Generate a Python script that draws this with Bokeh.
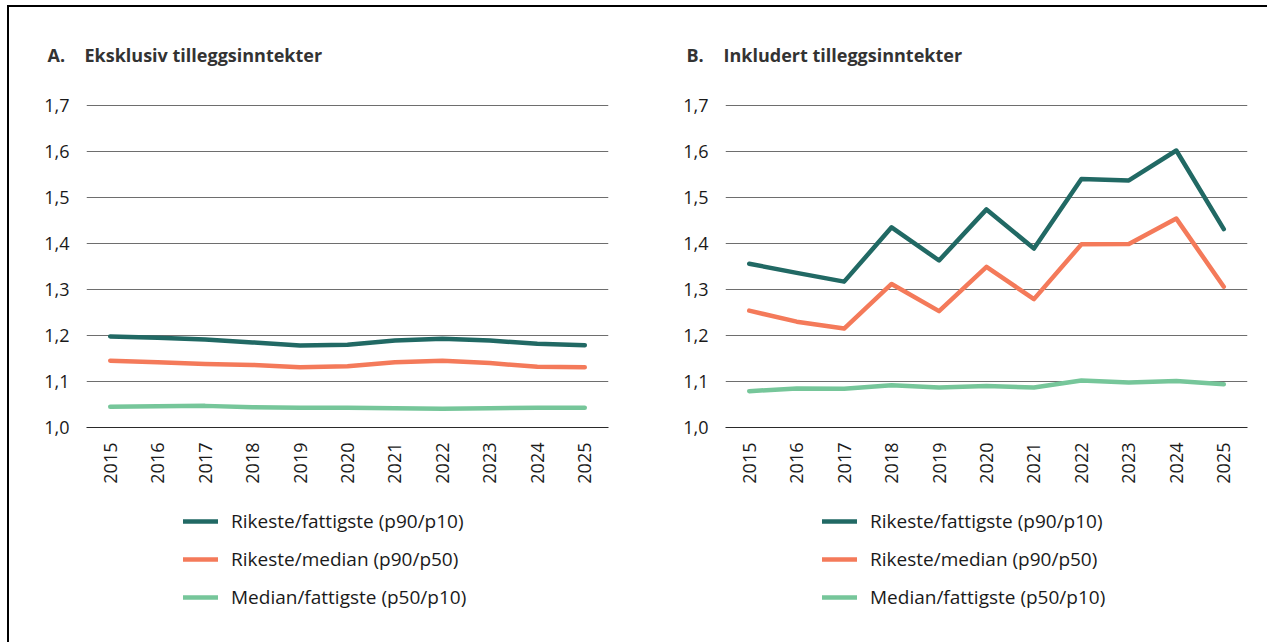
import math
from bokeh.plotting import figure
from bokeh.layouts import row, column
from bokeh.models import (Legend, LegendItem, Label, Range1d, FixedTicker,
                          CustomJSTickFormatter)
from bokeh.embed import file_html
from bokeh.resources import INLINE

years = list(range(2015, 2026))

a_p90_p10 = [1.198, 1.195, 1.191, 1.185, 1.178, 1.180, 1.189, 1.193, 1.189, 1.182, 1.179]
a_p90_p50 = [1.145, 1.142, 1.138, 1.136, 1.131, 1.133, 1.142, 1.145, 1.140, 1.132, 1.131]
a_p50_p10 = [1.045, 1.046, 1.047, 1.044, 1.043, 1.043, 1.042, 1.041, 1.042, 1.043, 1.043]

b_p90_p10 = [1.356, 1.336, 1.317, 1.435, 1.363, 1.474, 1.389, 1.540, 1.537, 1.602, 1.431]
b_p90_p50 = [1.254, 1.230, 1.215, 1.312, 1.253, 1.349, 1.279, 1.398, 1.399, 1.454, 1.306]
b_p50_p10 = [1.079, 1.085, 1.084, 1.092, 1.087, 1.090, 1.087, 1.102, 1.098, 1.101, 1.094]

y_ticks = [1.0, 1.1, 1.2, 1.3, 1.4, 1.5, 1.6, 1.7]

series_names = ["Rikeste/fattigste (p90/p10)",
                "Rikeste/median (p90/p50)",
                "Median/fattigste (p50/p10)"]
series_colors = ["#216964", "#f47a5a", "#76c69a"]

panel_letters = ["A.", "B."]
panel_titles = ["Eksklusiv tilleggsinntekter", "Inkludert tilleggsinntekter"]

FONT = "Open Sans"
TEXT = "#1a1a1a"
PANEL_W = [639, 619]
TOTAL_W = sum(PANEL_W)
PANEL_X = [0, PANEL_W[0]]


def blank(width, height):
    f = figure(width=width, height=height, x_range=Range1d(0, 1),
               y_range=Range1d(0, 1), x_axis_type=None, y_axis_type=None,
               min_border=0, output_backend="svg", toolbar_location=None,
               background_fill_color="white", border_fill_color="white")
    f.outline_line_color = None
    f.grid.visible = False
    return f


def make_chart(data, right_border):
    p = figure(frame_width=522, frame_height=323,
               min_border_left=77, min_border_right=right_border,
               min_border_top=10, min_border_bottom=60,
               x_range=Range1d(2014.5, 2025.5), y_range=Range1d(1.0, 1.702),
               output_backend="svg", toolbar_location=None,
               background_fill_color="white", border_fill_color="white")
    p.outline_line_color = None
    p.xgrid.grid_line_color = None
    p.ygrid.grid_line_color = "#6e6e6e"
    p.ygrid.grid_line_width = 1.2
    p.ygrid.ticker = FixedTicker(ticks=y_ticks)

    p.yaxis.ticker = FixedTicker(ticks=y_ticks)
    p.yaxis.formatter = CustomJSTickFormatter(
        code="return tick.toFixed(1).replace('.', ',');")
    p.yaxis.axis_line_color = None
    p.yaxis.major_tick_line_color = None
    p.yaxis.minor_tick_line_color = None
    p.yaxis.major_tick_out = 0
    p.yaxis.major_label_standoff = 17

    p.xaxis.ticker = FixedTicker(ticks=years)
    p.xaxis.axis_line_color = "#2a2a2a"
    p.xaxis.axis_line_width = 1.2
    p.xaxis.major_tick_line_color = None
    p.xaxis.minor_tick_line_color = None
    p.xaxis.major_tick_out = 0
    p.xaxis.major_label_orientation = math.pi / 2
    p.xaxis.major_label_standoff = 15

    for ax in (p.xaxis, p.yaxis):
        ax.major_label_text_font = FONT
        ax.major_label_text_font_size = "18px"
        ax.major_label_text_color = TEXT

    for color, vals in zip(series_colors, data):
        p.line(years, vals, line_color=color, line_width=4.5,
               line_cap="round", line_join="round")
    return p


# header with the two panel titles
header = blank(TOTAL_W, 87)
for x0, letter, title in zip(PANEL_X, panel_letters, panel_titles):
    for dx, txt in ((38, letter), (75, title)):
        header.add_layout(Label(x=x0 + dx, y=40, x_units="screen",
                                y_units="screen", text=txt, text_font=FONT,
                                text_font_style="bold", text_font_size="18px",
                                text_color="#333333",
                                text_baseline="alphabetic"))

p1 = make_chart([a_p90_p10, a_p90_p50, a_p50_p10], 40)
p2 = make_chart([b_p90_p10, b_p90_p50, b_p50_p10], 20)

# legend strip below the charts (series drawn off-range, only legends visible)
legfig = blank(TOTAL_W, 155)
for x0, data in zip(PANEL_X, ([a_p90_p10, a_p90_p50, a_p50_p10],
                              [b_p90_p10, b_p90_p50, b_p50_p10])):
    items = []
    for name, color, vals in zip(series_names, series_colors, data):
        r = legfig.line(years, vals, line_color=color, line_width=4.5,
                        line_cap="round")
        items.append(LegendItem(label=name, renderers=[r]))
    legfig.add_layout(Legend(items=items, location=(x0 + 174, 32),
                             orientation="vertical",
                             glyph_width=35, glyph_height=26, label_height=26,
                             label_standoff=13, spacing=12, padding=0, margin=0,
                             border_line_color=None, background_fill_alpha=0,
                             label_text_font=FONT, label_text_font_size="19px",
                             label_text_color=TEXT), "center")

layout = column(header, row(p1, p2), legfig,
                styles={"border-left": "2px solid black",
                        "border-top": "2px solid black",
                        "margin-left": "7px", "margin-top": "5px"})

open("out.html", "w").write(file_html(layout, INLINE))
